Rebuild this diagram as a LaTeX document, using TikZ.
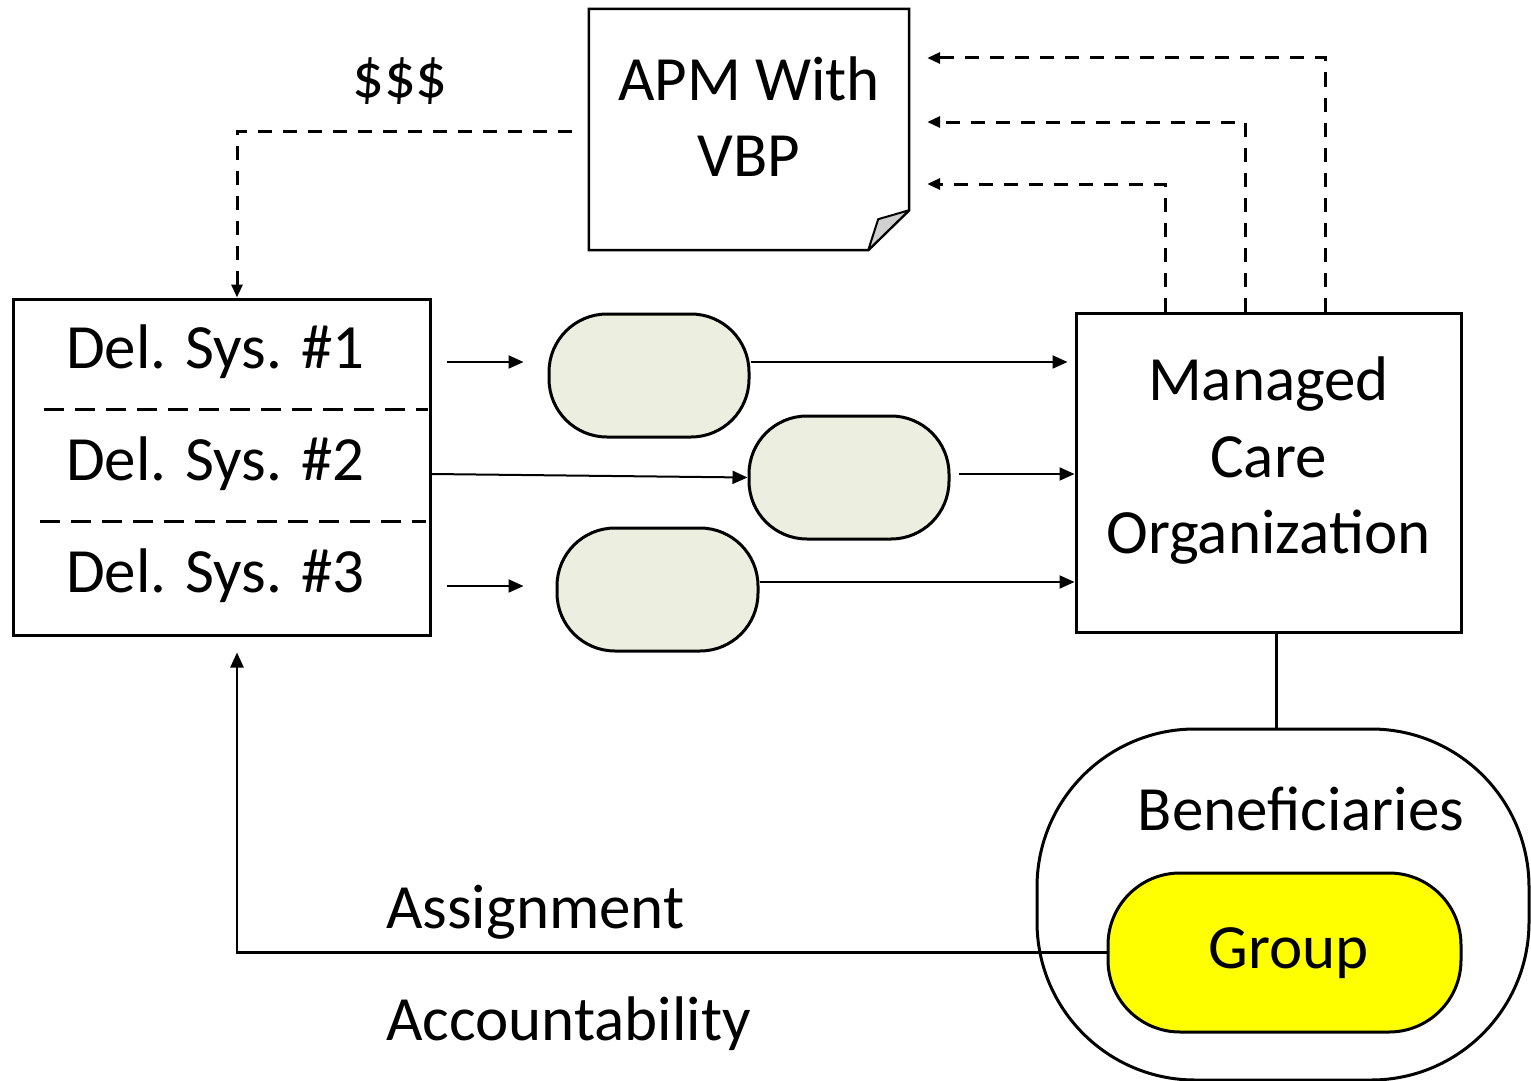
\documentclass[tikz,border=0pt]{standalone}
\usepackage{fontspec}
\setmainfont{Carlito}
\usetikzlibrary{arrows.meta,calc}
\definecolor{pillgreen}{HTML}{ECEFDF}
\definecolor{flapgray}{HTML}{D0D0D0}
\definecolor{groupyellow}{HTML}{FFFF00}
\begin{document}
\begin{tikzpicture}[x=1pt,y=-1pt,
  big/.style={font=\fontsize{63}{77}\selectfont,inner sep=0pt},
  frame/.style={draw,line width=3pt,inner sep=0pt},
  pill/.style={frame,fill=pillgreen,rounded corners=58pt,minimum width=200pt,minimum height=123pt},
  flow/.style={line width=2pt,-{Triangle[length=15pt,width=13pt]}},
  dflow/.style={line width=3pt,dash pattern=on 14pt off 11pt,-{Triangle[length=13pt,width=11pt]}},
  sep/.style={line width=3pt,dash pattern=on 20pt off 11pt},
]
\useasboundingbox (0,0) rectangle (1531,1081);

% APM note with folded corner
\node[minimum width=320pt,minimum height=241pt,inner sep=0pt] (apm) at (749,129.5) {};
\draw[line width=2.5pt,line join=miter]
  (apm.north west) -- (apm.north east) -- ($(apm.south east)+(0,-40)$)
  -- ($(apm.south east)+(-41,0)$) -- (apm.south west) -- cycle;
\draw[line width=2pt,fill=flapgray,line join=round]
  ($(apm.south east)+(-41,0)$) -- ($(apm.south east)+(-31,-31)$) -- ($(apm.south east)+(0,-40)$) -- cycle;
\node[big,anchor=base] (apmA) at (749,100) {APM With};
\node[big,anchor=base] (apmB) at (749,176) {VBP};

\node[big,anchor=base] (money) at (400,97) {\$\$\$};

% delivery systems
\node[frame,minimum width=417pt,minimum height=336pt] (del) at (221.5,467) {};
\draw[sep] (44,409) -- (428,409);
\draw[sep] (40,521) -- (426,521);
\node[big,anchor=base west] (ds1) at (66,368) {Del. Sys. \#1};
\node[big,anchor=base west] (ds2) at (66,480) {Del. Sys. \#2};
\node[big,anchor=base west] (ds3) at (66,592) {Del. Sys. \#3};

% intermediate pills
\node[pill] (p1) at (649,375.5) {};
\node[pill] (p2) at (849,477.5) {};
\node[pill,minimum width=201pt] (p3) at (657.5,589.5) {};

% managed care organization
\node[frame,minimum width=385pt,minimum height=319pt] (mco) at (1268.5,472.5) {};
\node[big,anchor=base] (mcoA) at (1268.5,400) {Managed};
\node[big,anchor=base] (mcoB) at (1268.5,477) {Care};
\node[big,anchor=base] (mcoC) at (1268.5,553) {Organization};

% beneficiaries and group
\node[frame,rounded corners=158pt,minimum width=492pt,minimum height=351pt] (ben) at (1283,904.5) {};
\node[big,anchor=base] (benT) at (1301,830) {Beneficiaries};
\node[frame,fill=groupyellow,rounded corners=72pt,minimum width=353pt,minimum height=159pt] (grp) at (1284.5,952.5) {};
\node[big,anchor=base] (grpT) at (1289,968) {Group};

\node[big,anchor=base west] (assign) at (386,928) {Assignment};
\node[big,anchor=base west] (account) at (386,1040) {Accountability};

% solid flows
\draw[flow,shorten <=15pt,shorten >=24pt] (del.east |- 0,362) -- (p1.west |- 0,362);
\draw[flow] (del.east |- 0,474) -- (p2.west);
\draw[flow,shorten <=15pt,shorten >=32pt] (del.east |- 0,586) -- (p3.west |- 0,586);
\draw[flow,shorten >=7pt] (p1.east |- 0,362) -- (mco.west |- 0,362);
\draw[flow,shorten <=8pt] (p2.east |- 0,474) -- (mco.west |- 0,474);
\draw[flow] (p3.east |- 0,582) -- (mco.west |- 0,582);
\draw[line width=3pt] (1276,0 |- mco.south) -- (1276,0 |- ben.north);
\draw[flow,line width=2.5pt,shorten >=16pt] (grp.west) -| (237,0 |- del.south);

% payment and reporting flows
\coordinate (payStart) at ($(apm.west |- 0,131)+(-17,0)$);
\draw[dflow] (payStart) -| (237,0 |- del.north);
\coordinate (r1) at ($(apm.east |- 0,58)+(18,0)$);
\coordinate (r2) at ($(apm.east |- 0,122)+(18,0)$);
\coordinate (r3) at ($(apm.east |- 0,184)+(18,0)$);
\draw[dflow] (1325,0 |- mco.north) |- (r1);
\draw[dflow] (1245,0 |- mco.north) |- (r2);
\draw[dflow] (1165,0 |- mco.north) |- (r3);
\end{tikzpicture}
\end{document}
